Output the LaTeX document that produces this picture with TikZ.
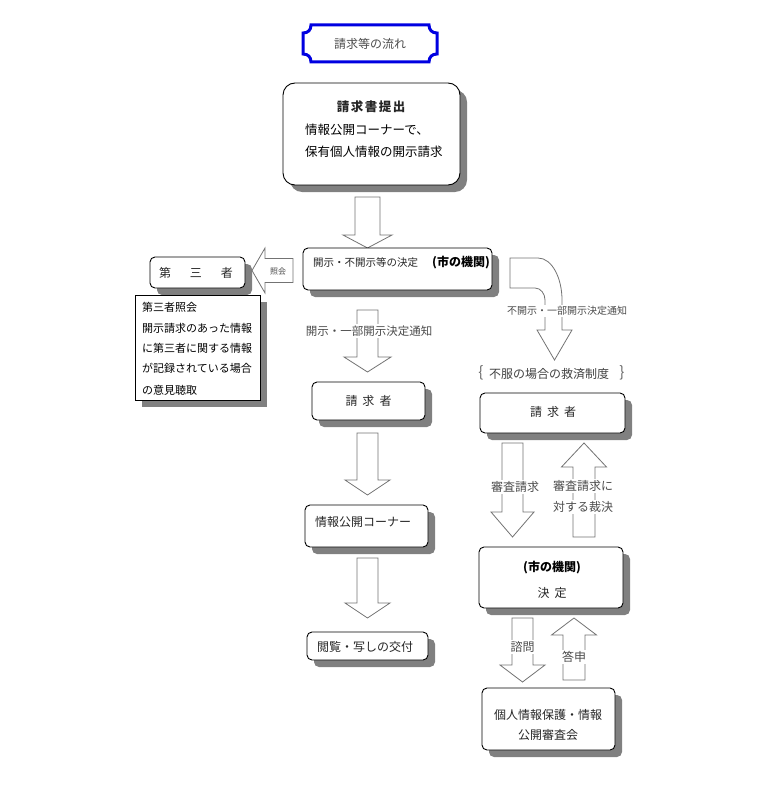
\documentclass[tikz,border=0pt]{standalone}
\usepackage{fontspec}
\setmainfont{Noto Sans CJK JP}
\usetikzlibrary{shadows}
\newcommand\blkarr[6]{\draw[blk] ({#1-#5},#2) -- ({#1+#5},#2) -- ({#1+#5},#3) -- ({#1+#6},#3) -- (#1,#4) -- ({#1-#6},#3) -- ({#1-#5},#3) -- cycle;}
\newcommand\fs[1]{\fontsize{#1}{#1}\selectfont}
\begin{document}
\begin{tikzpicture}[x=1pt,y=-1pt,
  shad/.style={general shadow={fill=black!50, shadow xshift=7pt, shadow yshift=-7pt}},
  box/.style={draw=black, line width=0.9pt, fill=white, rounded corners=5pt, inner sep=0pt, shad},
  blk/.style={draw=black!55, line width=0.8pt, fill=white, line join=miter},
  txt/.style={inner sep=0pt, text=black!85, font=\fs{12}},
  lbl/.style={inner sep=1.5pt, fill=white, text=black!70, font=\fs{11.5}},
]
\useasboundingbox (0,0) rectangle (767,805);
% title
\draw[line width=3pt, draw={rgb,255:red,0;green,0;blue,225}, fill=white]
  (311,25) -- (429,25) .. controls (429,30) and (432,33) .. (437,33)
  -- (437,54) .. controls (432,54) and (429,57) .. (429,62)
  -- (311,62) .. controls (311,57) and (308,54) .. (303,54)
  -- (303,33) .. controls (308,33) and (311,30) .. (311,25) -- cycle;
\node[txt, text=black!70] (title) at (370,44) {請求等の流れ};
% top box
\node[box, rounded corners=12pt, minimum width=177pt, minimum height=102pt] (reqbox) at (371.5,134) {};
\node[txt, font=\fs{12.5}\bfseries] (reqt) at (371,107) {請\hspace{1.5pt}求\hspace{1.5pt}書\hspace{1.5pt}提\hspace{1.5pt}出};
\node[txt, anchor=west, text=black, font=\fs{12.5}] (reql1) at (305,130) {情報公開コーナーで、};
\node[txt, anchor=west, text=black, font=\fs{12.5}] (reql2) at (305,152) {保有個人情報の開示請求};
% arrow 1
\blkarr{367.5}{197}{235}{248}{12.5}{24.5}
% decision box
\node[box, minimum width=189pt, minimum height=42pt] (dec) at (397.5,269) {};
\node[txt, anchor=west, font=\fs{10.5}] (dect) at (313,263) {開示・不開示等の決定};
\node[txt, anchor=west, text=black, font=\fs{12}\bfseries] (decb) at (432,263) {(市の機関)};
% third party
\node[box, minimum width=95pt, minimum height=31pt] (tp) at (197.5,272.5) {};
\node[txt] (tpt) at (196,273) {第\hspace{19pt}三\hspace{19pt}者};
% shoukai arrow (left)
\draw[blk] (293,258.5) -- (265,258.5) -- (265,248) -- (252,270.5) -- (265,293) -- (265,282.5) -- (293,282.5) -- cycle;
\node[txt, font=\fs{8}, text=black!70] (shk) at (278,271) {照会};
% note box
\node[draw=black, line width=0.9pt, fill=white, inner sep=0pt, shad, minimum width=125pt, minimum height=105pt] (note) at (197.5,347.5) {};
\node[txt, anchor=west, font=\fs{11}, text=black] (n1) at (142,307) {第三者照会};
\node[txt, anchor=west, font=\fs{11}, text=black] (n2) at (142,328) {開示請求のあった情報};
\node[txt, anchor=west, font=\fs{11}, text=black] (n3) at (142,348) {に第三者に関する情報};
\node[txt, anchor=west, font=\fs{11}, text=black] (n4) at (142,368) {が記録されている場合};
\node[txt, anchor=west, font=\fs{11}, text=black] (n5) at (142,390) {の意見聴取};
% arrow 2 (notice)
\blkarr{367.5}{310}{357}{372}{10.5}{23.5}
\node[lbl] (a2l) at (369,331) {開示・一部開示決定通知};
% mid requester
\node[box, minimum width=113pt, minimum height=38pt] (req2) at (368.5,401) {};
\node[txt] (req2t) at (368.5,401) {請\hspace{5pt}求\hspace{5pt}者};
\blkarr{367.5}{433}{480}{495}{10.5}{22.5}
% corner box
\node[box, minimum width=123pt, minimum height=42pt] (corner) at (366.5,526) {};
\node[txt, anchor=west] (cornert) at (315,522) {情報公開コーナー};
\blkarr{367.5}{558}{603}{618}{10.5}{22.5}
% delivery box
\node[box, minimum width=121pt, minimum height=28pt] (deliv) at (367.5,646) {};
\node[txt, anchor=west] (delivt) at (317,647) {閲覧・写しの交付};
% curved arrow
\draw[blk] (510,258) -- (538,258) .. controls (552,258) and (562,278) .. (562,300)
  -- (562,330) -- (572,330) -- (554.5,360) -- (537,330) -- (545,330) -- (545,300)
  .. controls (545,294) and (541,288) .. (535,288) -- (510,288) -- cycle;
\node[lbl, font=\fs{10}, fill=white] (a6l) at (567,311) {不開示・一部開示決定通知};
% relief
\node[txt, text=black!75] (relief) at (549,374) {不服の場合の救済制度};
\node[txt, text=black!60, font=\fs{15}] (lbr) at (481,373) {\{};
\node[txt, text=black!60, font=\fs{15}] (rbr) at (622,373) {\}};
% right requester
\node[box, minimum width=145pt, minimum height=40pt] (req3) at (552.5,413) {};
\node[txt] (req3t) at (553,412) {請\hspace{5pt}求\hspace{5pt}者};
\blkarr{512.5}{443}{512}{537}{10.5}{21.5}
\node[lbl, font=\fs{12}] (a7l) at (515,487) {審査請求};
\blkarr{584}{537}{467}{443}{11}{22.5}
\node[lbl, font=\fs{12}, inner ysep=1pt] (a8l1) at (583,486) {審査請求に};
\node[lbl, font=\fs{12}, inner ysep=1pt] (a8l2) at (583,507) {対する裁決};
% right decision
\node[box, minimum width=144pt, minimum height=61pt] (dec2) at (551,577.5) {};
\node[txt, text=black, font=\fs{12}\bfseries] (dec2a) at (552,568) {(市の機関)};
\node[txt] (dec2b) at (552,593) {決\hspace{5pt}定};
\blkarr{522.5}{618}{665}{682}{10.5}{22.5}
\node[lbl, font=\fs{12}] (a9l) at (522.5,647) {諮問};
\blkarr{574}{680}{635}{618}{11}{22.5}
\node[lbl, font=\fs{12}] (a10l) at (574,657) {答申};
% council
\node[box, minimum width=133pt, minimum height=62pt] (council) at (548.5,719) {};
\node[txt] (c1) at (548,715) {個人情報保護・情報};
\node[txt] (c2) at (548,735) {公開審査会};
\end{tikzpicture}
\end{document}
